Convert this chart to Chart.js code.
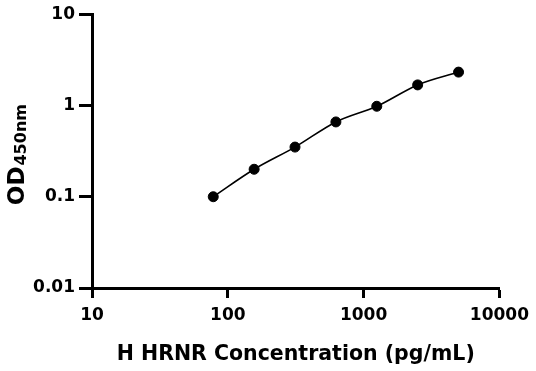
<!DOCTYPE html>
<html>
<head>
<meta charset="utf-8">
<script src="https://cdn.jsdelivr.net/npm/chart.js@4/dist/chart.umd.min.js"></script>
<style>
  html, body { margin: 0; padding: 0; background: #fff; }
  #wrap { width: 536px; height: 371px; position: relative; }
</style>
</head>
<body>
<div id="wrap"><canvas id="stdCurve"></canvas></div>
<script>
// standard curve data
const concentrations = [78.125, 156.25, 312.5, 625, 1250, 2500, 5000];
const odValues = [0.10, 0.20, 0.35, 0.66, 0.98, 1.68, 2.32];
const xTicks = [10, 100, 1000, 10000];
const yTicks = [0.01, 0.1, 1, 10];

const points = concentrations.map((c, i) => ({ x: c, y: odValues[i] }));
const boldFont = "'DejaVu Sans', 'Noto Sans', sans-serif";

// draws "OD" with subscript "450nm", rotated
const yTitlePlugin = {
    id: 'yTitle',
    afterDraw(chart) {
        const c = chart.ctx;
        const area = chart.chartArea;
        const midY = (area.top + area.bottom) / 2 + 4;
        c.save();
        c.translate(24, midY);
        c.rotate(-Math.PI / 2);
        c.fillStyle = '#000';
        c.textBaseline = 'alphabetic';
        c.font = 'bold 23px ' + boldFont;
        const w1 = c.measureText('OD').width;
        c.font = 'bold 16px ' + boldFont;
        const w2 = c.measureText('450nm').width;
        const start = -(w1 + w2) / 2;
        c.font = 'bold 23px ' + boldFont;
        c.textAlign = 'left';
        c.fillText('OD', start, 0);
        c.font = 'bold 16px ' + boldFont;
        c.fillText('450nm', start + w1 + 1, 2);
        c.restore();
    }
};

const ctx = document.getElementById('stdCurve').getContext('2d');
const myChart = new Chart(ctx, {
    type: 'scatter',
    data: {
        datasets: [{
            label: 'OD450',
            data: points,
            showLine: true,
            cubicInterpolationMode: 'monotone',
            borderColor: '#000',
            borderWidth: 1.6,
            backgroundColor: '#000',
            pointRadius: 5,
            pointBorderWidth: 1,
            pointHoverRadius: 5
        }]
    },
    options: {
        responsive: true,
        maintainAspectRatio: false,
        animation: false,
        layout: { padding: { top: 13, right: 34, left: 0, bottom: 0 } },
        plugins: {
            legend: { display: false },
            tooltip: { enabled: false }
        },
        scales: {
            x: {
                type: 'logarithmic',
                min: 10,
                max: 10000,
                afterBuildTicks: (s) => { s.ticks = xTicks.map(v => ({ value: v })); },
                afterFit: (s) => { s.height = 83; },
                border: { color: '#000', width: 3 },
                grid: { drawOnChartArea: false, drawTicks: true, tickLength: 10, color: '#000', tickColor: '#000', tickWidth: 3 },
                ticks: {
                    color: '#000',
                    padding: 7,
                    maxRotation: 0,
                    font: { family: boldFont, size: 17, weight: 'bold' },
                    callback: (v) => String(v)
                },
                title: {
                    display: true,
                    text: 'H HRNR Concentration (pg/mL)',
                    color: '#000',
                    font: { family: boldFont, size: 20.5, weight: 'bold' },
                    padding: { top: 5 }
                }
            },
            y: {
                type: 'logarithmic',
                min: 0.01,
                max: 10,
                afterBuildTicks: (s) => { s.ticks = yTicks.map(v => ({ value: v })); },
                afterFit: (s) => { s.width = 92; },
                border: { color: '#000', width: 3 },
                grid: { drawOnChartArea: false, drawTicks: true, tickLength: 13, color: '#000', tickColor: '#000', tickWidth: 3 },
                ticks: {
                    color: '#000',
                    padding: 4,
                    font: { family: boldFont, size: 17, weight: 'bold' },
                    callback: (v) => String(v)
                }
            }
        }
    },
    plugins: [yTitlePlugin]
});
</script>
</body>
</html>
